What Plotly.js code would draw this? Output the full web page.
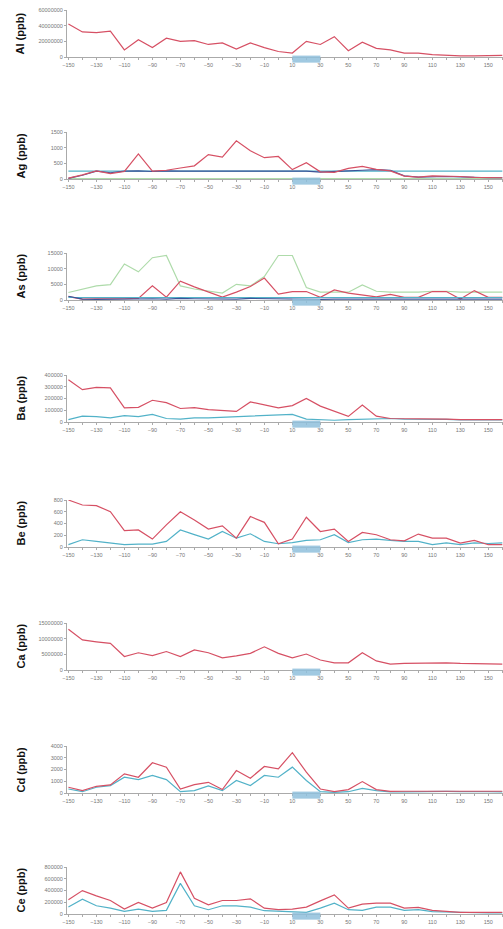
<!DOCTYPE html>
<html>
<head>
<meta charset="utf-8">
<script src="https://cdn.plot.ly/plotly-3.0.1.min.js"></script>
<style>html,body{margin:0;padding:0;background:#fff;}#chart{width:503px;height:929px;}</style>
</head>
<body>
<div id="chart"></div>
<script>
// Distance positions (one sample every 10 units)
const positions = [-150,-140,-130,-120,-110,-100,-90,-80,-70,-60,-50,-40,-30,-20,-10,0,10,20,30,40,50,60,70,80,90,100,110,120,130,140,150,160];
const zoneRange = [10, 30];

const elements = ["Al (ppb)","Ag (ppb)","As (ppb)","Ba (ppb)","Be (ppb)","Ca (ppb)","Cd (ppb)","Ce (ppb)"];
const yMax = [60000000, 1500, 15000, 400000, 800, 15000000, 4000, 800000];
const yStep = [20000000, 500, 5000, 100000, 200, 5000000, 1000, 200000];

const alRed = [42000000,32000000,31000000,33000000,9000000,22000000,12000000,24000000,20000000,21000000,16000000,18000000,10000000,18000000,12000000,7000000,5000000,20000000,16000000,26000000,8000000,19000000,11000000,9000000,5000000,5000000,3000000,2000000,1500000,1500000,1500000,2000000];

const agRed  = [30,130,260,170,240,800,250,280,350,420,780,700,1220,900,680,720,300,520,230,210,340,400,310,260,90,60,100,100,80,50,40,40];
const agBlue = [20,120,250,200,250,260,240,260,250,250,260,250,250,250,250,250,260,250,220,230,260,280,300,280,100,60,80,80,70,50,40,40];
const agTeal = [250,250,250,250,250,250,250,250,250,250,250,250,250,250,250,250,250,250,250,250,250,250,250,250,250,250,250,250,250,250,250,250];
const agGreen = [10,10,10,10,10,10,10,10,10,10,10,10,10,10,10,10,10,10,10,10,10,10,10,10,10,10,10,10,10,10,10,10];

const asGreen = [2400,3400,4500,4900,11500,9000,13500,14200,4500,3500,2800,2200,5000,4500,7500,14200,14200,4000,2500,2500,2500,4800,2800,2500,2500,2500,2800,2800,2500,2500,2500,2500];
const asRed   = [1100,300,400,300,400,500,4500,900,6000,4200,2600,900,2500,4300,7000,1900,2700,2700,830,3200,2200,1500,1000,1800,830,830,2700,2700,300,3000,830,830];
const asTeal  = [800,800,800,800,800,800,800,800,800,800,800,800,800,800,800,800,800,800,800,800,800,800,800,800,800,800,800,800,800,800,800,800];
const asBlue  = [1200,300,200,300,300,300,400,300,500,400,300,200,300,500,400,300,300,300,200,300,300,300,300,300,300,200,300,300,200,300,300,300];

const baRed  = [360000,275000,294000,290000,121000,125000,185000,165000,115000,123000,105000,95000,90000,171000,145000,121000,140000,200000,135000,90000,48000,145000,50000,30000,30000,28000,28000,25000,20000,20000,22000,20000];
const baBlue = [20000,50000,45000,35000,55000,45000,65000,30000,25000,35000,35000,40000,45000,50000,50000,55000,65000,25000,20000,15000,20000,25000,30000,30000,25000,25000,25000,22000,18000,18000,20000,18000];

const beRed  = [800,715,705,600,280,290,135,377,600,460,305,360,150,518,420,55,135,507,264,305,95,247,208,123,106,220,152,152,68,112,39,39];
const beBlue = [40,123,95,70,40,50,50,95,290,210,135,264,150,225,95,55,75,112,123,210,75,123,135,112,95,95,40,70,40,70,60,70];

const caRed = [13000000,9600000,9000000,8500000,4300000,5500000,4600000,5900000,4300000,6400000,5500000,3900000,4500000,5300000,7400000,5300000,3900000,5100000,3200000,2300000,2300000,5500000,2900000,1900000,2100000,2200000,2400000,2300000,2100000,2000000,2100000,1900000];

const cdRed  = [490,200,570,690,1630,1340,2570,2200,340,710,910,290,1910,1260,2260,2060,3430,1770,340,110,290,970,290,140,150,150,180,200,180,160,180,150];
const cdBlue = [340,110,490,630,1340,1140,1490,1140,110,200,600,200,1060,630,1490,1340,2200,1060,110,60,110,400,200,100,100,120,150,130,120,140,120,100];

const ceRed  = [241000,398000,308000,230000,84000,196000,100000,196000,717000,269000,157000,230000,230000,258000,100000,73000,84000,118000,224000,325000,100000,168000,185000,185000,100000,112000,62000,45000,28000,28000,28000,28000];
const ceBlue = [118000,252000,140000,100000,45000,84000,45000,62000,521000,140000,73000,140000,140000,118000,56000,45000,45000,28000,100000,185000,73000,62000,118000,118000,62000,73000,39000,34000,17000,17000,17000,17000];

const RED = '#d65064', TEAL = '#52b2c8', DBLUE = '#3c5498', GREEN = '#aedbaa';

const panelSeries = [
  [[alRed, RED]],
  [[agGreen, GREEN],[agTeal, TEAL],[agBlue, DBLUE],[agRed, RED]],
  [[asGreen, GREEN],[asRed, RED],[asTeal, TEAL],[asBlue, DBLUE]],
  [[baBlue, TEAL],[baRed, RED]],
  [[beBlue, TEAL],[beRed, RED]],
  [[caRed, RED]],
  [[cdBlue, TEAL],[cdRed, RED]],
  [[ceBlue, TEAL],[ceRed, RED]]
];

const W = 503, H = 929;
const tops = [10, 132, 253, 375, 500, 623, 746, 867];
const plotH = 47;
const leftPx = 67;

const data = [];
const layout = {
  width: W, height: H,
  margin: {l:0, r:0, t:0, b:0},
  paper_bgcolor: '#fff', plot_bgcolor: '#fff',
  showlegend: false,
  font: {family: 'Arial, Liberation Sans, sans-serif', color: '#666'},
  shapes: [], annotations: []
};

panelSeries.forEach((series, i) => {
  const n = i === 0 ? '' : String(i + 1);
  series.forEach(([vals, col]) => {
    data.push({
      x: positions, y: vals, type: 'scatter', mode: 'lines',
      xaxis: 'x' + n, yaxis: 'y' + n,
      line: {color: col, width: 1.2}, hoverinfo: 'skip'
    });
  });
  const top = tops[i], bot = top + plotH;
  layout['xaxis' + n] = {
    domain: [leftPx / W, 1], anchor: 'y' + n,
    range: [-151, 160.5],
    tickmode: 'linear', tick0: -150, dtick: 20,
    minor: {dtick: 10, tick0: -150, ticks: 'outside', ticklen: 2, tickcolor: '#aaa'},
    ticks: 'outside', ticklen: 2, tickcolor: '#aaa',
    showline: true, linecolor: '#aaa', linewidth: 1,
    showgrid: false, zeroline: false,
    tickfont: {size: 5.5, color: '#777'}
  };
  layout['yaxis' + n] = {
    domain: [1 - bot / H, 1 - top / H], anchor: 'x' + n,
    range: [0, yMax[i]],
    tickmode: 'linear', tick0: 0, dtick: yStep[i],
    ticks: 'outside', ticklen: 2, tickcolor: '#aaa',
    showline: true, linecolor: '#aaa', linewidth: 1,
    showgrid: false, zeroline: false,
    tickformat: 'd',
    tickfont: {size: 5.5, color: '#777'}
  };
  layout.shapes.push({
    type: 'rect', xref: 'x' + n, yref: 'y' + n + ' domain',
    x0: zoneRange[0], x1: zoneRange[1], y0: -0.12, y1: 0.03,
    fillcolor: '#8fbfdc', opacity: 0.85, line: {width: 0}, layer: 'above'
  });
  layout.annotations.push({
    xref: 'paper', yref: 'paper',
    x: 20 / W, y: 1 - (top + plotH / 2) / H,
    text: '<b>' + elements[i] + '</b>', textangle: -90,
    showarrow: false, font: {size: 11, color: '#111', family: 'Arial, Liberation Sans, sans-serif'},
    xanchor: 'center', yanchor: 'middle'
  });
});

Plotly.newPlot('chart', data, layout, {staticPlot: true, displayModeBar: false});
</script>
</body>
</html>
